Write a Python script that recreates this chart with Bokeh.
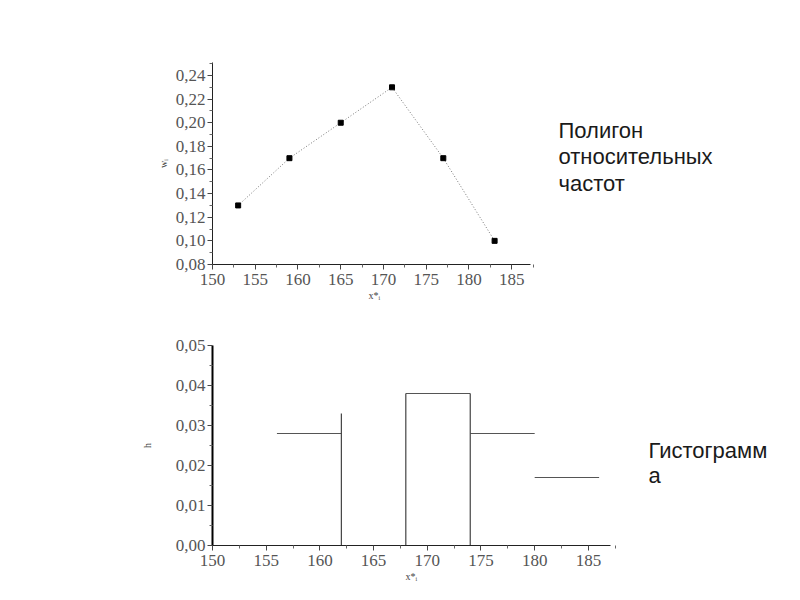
from bokeh.plotting import figure
from bokeh.models import Range1d, Label, Title, FixedTicker, CustomJSTickFormatter
from bokeh.embed import file_html
from bokeh.resources import INLINE

# --- polygon of relative frequencies ---
poly_x = [153, 159, 165, 171, 177, 183]
poly_w = [0.13, 0.17, 0.20, 0.23, 0.17, 0.10]
poly_yticks = [0.08, 0.10, 0.12, 0.14, 0.16, 0.18, 0.20, 0.22, 0.24]
xticks = [150, 155, 160, 165, 170, 175, 180, 185]

# --- histogram ---
bin_left = [156, 162, 168, 174, 180]
bin_right = [162, 168, 174, 180, 186]
heights = [0.028, 0.033, 0.038, 0.028, 0.017]
hist_yticks = [0.00, 0.01, 0.02, 0.03, 0.04, 0.05]

SERIF = "Liberation Serif"
SANS = "Liberation Sans"
TICK_COLOR = "#555555"

def style(p, yticks, ydec, yminor, xbounds):
    p.xaxis.ticker = FixedTicker(ticks=xticks, minor_ticks=[x + 2.5 for x in xticks])
    p.yaxis.ticker = FixedTicker(ticks=yticks, minor_ticks=yminor)
    p.yaxis.formatter = CustomJSTickFormatter(
        code="return tick.toFixed(%d).replace('.', ',');" % ydec)
    p.xaxis.bounds = xbounds
    for ax in (p.xaxis[0], p.yaxis[0]):
        ax.major_label_text_font = SERIF
        ax.major_label_text_font_size = "17px"
        ax.major_label_text_color = TICK_COLOR
        ax.axis_line_color = "#222222"
        ax.major_tick_line_color = "#444444"
        ax.minor_tick_line_color = "#666666"
        ax.major_tick_out = 5
        ax.major_tick_in = 0
        ax.minor_tick_out = 3
        ax.minor_tick_in = 0
        ax.axis_label_text_font = SERIF
        ax.axis_label_text_font_size = "10px"
        ax.axis_label_text_font_style = "normal"
        ax.axis_label_text_color = "#444444"
    p.xaxis.major_label_standoff = 4
    p.yaxis.major_label_standoff = 2
    p.xgrid.visible = False
    p.ygrid.visible = False
    p.outline_line_color = None
    p.background_fill_color = "white"
    p.border_fill_color = "white"

def xlabel(p, text, center_px, left_px):
    t = Title(text=text, align="left", offset=center_px - left_px - 6,
              text_font=SERIF, text_font_size="10px", text_font_style="normal",
              text_color="#444444", standoff=0)
    p.add_layout(t, "below")

# ---------- top figure ----------
L, R_AX, R_FR = 212, 530, 790
x0_1, x1_1 = 150.0, 187.2
ppx1 = (R_AX - L) / (x1_1 - x0_1)
xend1 = x0_1 + (R_FR - L) / ppx1
T1, B1 = 62, 268
y0_1, y1_1 = 0.08, 0.251
ppy1 = (B1 - T1) / (y1_1 - y0_1)

p1 = figure(width=800, height=300, output_backend="svg", toolbar_location=None,
            x_range=Range1d(x0_1, xend1), y_range=Range1d(y0_1, y1_1),
            min_border_left=L, min_border_right=800 - R_FR, min_border_top=T1,
            min_border_bottom=300 - B1, y_axis_label="wᵢ")
style(p1, poly_yticks, 2, [0.09, 0.11, 0.13, 0.15, 0.17, 0.19, 0.21, 0.23, 0.25], (x0_1, x1_1))
p1.yaxis.axis_label_standoff = 4
xlabel(p1, "x*ᵢ", 374, L)
p1.line(poly_x, poly_w, line_color="#777777", line_width=1, line_dash="1 2")
p1.scatter(poly_x, poly_w, marker="square", size=5, color="black")

lines1 = ["Полигон", "относительных", "частот"]
for i, t in enumerate(lines1):
    base_px = 131 + 27 * i
    p1.add_layout(Label(x=x0_1 + (558 - L) / ppx1, y=y0_1 + (B1 - base_px) / ppy1,
                        text=t, text_font=SANS, text_font_size="22px",
                        text_color="#1a1a1a", text_baseline="alphabetic"))

# ---------- bottom figure ----------
R_AX2 = 610
x0_2, x1_2 = 150.0, 187.06
ppx2 = (R_AX2 - L) / (x1_2 - x0_2)
xend2 = x0_2 + (R_FR - L) / ppx2
T2, B2 = 45, 245          # page y 345..545
y0_2, y1_2 = 0.0, 0.05
ppy2 = (B2 - T2) / (y1_2 - y0_2)

p2 = figure(width=800, height=300, output_backend="svg", toolbar_location=None,
            x_range=Range1d(x0_2, xend2), y_range=Range1d(y0_2, y1_2),
            min_border_left=L, min_border_right=800 - R_FR, min_border_top=T2,
            min_border_bottom=300 - B2, y_axis_label="h")
style(p2, hist_yticks, 2, [0.005, 0.015, 0.025, 0.035, 0.045], (x0_2, x1_2))
p2.yaxis.axis_line_width = 2
p2.yaxis.axis_line_color = "black"
p2.yaxis.axis_label_standoff = 20
xlabel(p2, "x*ᵢ", 411, L)

# tops of the bins that are drawn
shown_top = [0, 2, 3, 4]
p2.segment(x0=[bin_left[i] for i in shown_top], y0=[heights[i] for i in shown_top],
           x1=[bin_right[i] for i in shown_top], y1=[heights[i] for i in shown_top],
           line_color="#555555", line_width=1.2)
# vertical edges
vx = [bin_left[1], bin_left[2], bin_right[2]]
vh = [heights[1], heights[2], heights[2]]
p2.segment(x0=vx, y0=[0] * len(vx), x1=vx, y1=vh, line_color="#444444", line_width=1.2)

lines2 = ["Гистограмм", "а"]
for i, t in enumerate(lines2):
    base_px = 150 + 25 * i
    p2.add_layout(Label(x=x0_2 + (648 - L) / ppx2, y=y0_2 + (B2 - base_px) / ppy2,
                        text=t, text_font=SANS, text_font_size="22px",
                        text_color="#1a1a1a", text_baseline="alphabetic"))

open("out.html", "w").write(file_html([p1, p2], INLINE))
